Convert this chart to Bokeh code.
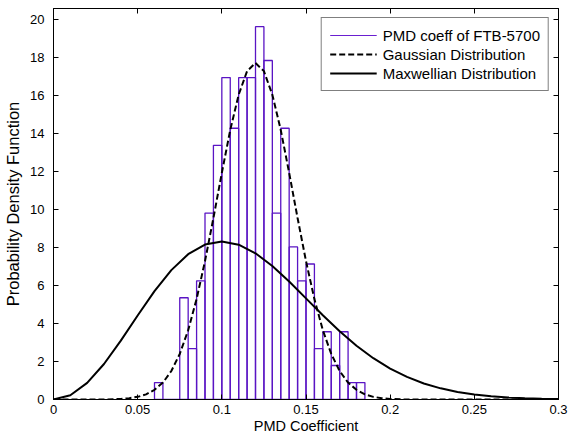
from bokeh.plotting import figure
from bokeh.models import (LinearAxis, Range1d, Legend, LegendItem, ColumnDataSource,
                          FixedTicker, NumeralTickFormatter)
from bokeh.embed import file_html
from bokeh.resources import INLINE

# ---- data ----
bin_left = [0.060, 0.065, 0.070, 0.075, 0.080, 0.085, 0.090, 0.095, 0.100, 0.105,
            0.110, 0.115, 0.120, 0.125, 0.130, 0.135, 0.140, 0.145, 0.150, 0.155,
            0.160, 0.165, 0.170, 0.175, 0.180]
bin_width = 0.005
pdf_hist = [0.89, 0.0, 0.0, 5.36, 2.68, 6.25, 9.82, 13.39, 16.96, 14.29,
            16.96, 16.96, 19.64, 17.86, 9.82, 14.29, 8.04, 6.25, 7.14, 2.68,
            3.57, 1.79, 3.57, 0.89, 0.89]

gauss_x = [0.0, 0.01, 0.02, 0.03, 0.040, 0.045, 0.050, 0.055, 0.060, 0.065, 0.070,
           0.075, 0.080, 0.085, 0.090, 0.095, 0.100, 0.105, 0.110, 0.115, 0.120,
           0.125, 0.130, 0.135, 0.140, 0.145, 0.150, 0.155, 0.160, 0.165, 0.170,
           0.175, 0.180, 0.185, 0.190, 0.195, 0.200, 0.21, 0.22, 0.23, 0.24, 0.25,
           0.26, 0.27, 0.28, 0.29, 0.30]
gauss_y = [0.0, 0.0, 0.0, 0.0, 0.03, 0.07, 0.14, 0.27, 0.51, 0.89, 1.50,
           2.40, 3.65, 5.29, 7.29, 9.56, 11.94, 14.20, 16.06, 17.30, 17.73,
           17.30, 16.06, 14.20, 11.94, 9.56, 7.29, 5.29, 3.65, 2.40, 1.50,
           0.89, 0.51, 0.27, 0.14, 0.07, 0.03, 0.0, 0.0, 0.0, 0.0, 0.0,
           0.0, 0.0, 0.0, 0.0, 0.0]

maxw_x = [0.00, 0.01, 0.02, 0.03, 0.04, 0.05, 0.06, 0.07, 0.08, 0.09, 0.10,
          0.11, 0.12, 0.13, 0.14, 0.15, 0.16, 0.17, 0.18, 0.19, 0.20,
          0.21, 0.22, 0.23, 0.24, 0.25, 0.26, 0.27, 0.28, 0.29, 0.30]
maxw_y = [0.0, 0.225, 0.875, 1.872, 3.101, 4.427, 5.707, 6.816, 7.656, 8.165, 8.327,
          8.158, 7.703, 7.031, 6.213, 5.328, 4.438, 3.595, 2.835, 2.177, 1.630,
          1.189, 0.846, 0.588, 0.399, 0.265, 0.171, 0.109, 0.067, 0.041, 0.024]

x_ticks = [0, 0.05, 0.1, 0.15, 0.2, 0.25, 0.3]
y_ticks = [0, 2, 4, 6, 8, 10, 12, 14, 16, 18, 20]

FONT = "Liberation Sans"

p = figure(width=570, height=439, x_range=Range1d(0, 0.3), y_range=Range1d(0, 20.6),
           output_backend="svg", toolbar_location=None,
           min_border_left=53, min_border_right=12, min_border_top=8, min_border_bottom=40)
p.xgrid.visible = False
p.ygrid.visible = False
p.outline_line_color = "black"
p.outline_line_width = 1
p.background_fill_color = "white"
p.border_fill_color = "white"

hist_src = ColumnDataSource(dict(left=bin_left,
                                 right=[b + bin_width for b in bin_left],
                                 top=pdf_hist,
                                 bottom=[0.0] * len(bin_left)))
p.quad(left="left", right="right", top="top", bottom="bottom", source=hist_src,
       fill_color=None, line_color="#5a14c4", line_width=1.3)

g = p.line(gauss_x, gauss_y, line_color="black", line_width=2, line_dash="6 3")
m = p.line(maxw_x, maxw_y, line_color="black", line_width=2)
h_leg = p.line([float("nan")], [float("nan")], line_color="#6a1fd0", line_width=1.2)

for ax in (p.xaxis[0], p.yaxis[0]):
    ax.major_tick_in = 5
    ax.major_tick_out = 0
    ax.minor_tick_in = 0
    ax.minor_tick_out = 0
    ax.minor_tick_line_color = None
    ax.axis_line_color = "black"
    ax.major_label_text_font = FONT
    ax.major_label_text_font_size = "13px"
    ax.major_label_text_color = "black"
    ax.axis_label_text_font = FONT
    ax.axis_label_text_font_style = "normal"
    ax.axis_label_text_color = "black"

p.xaxis[0].ticker = FixedTicker(ticks=x_ticks)
p.xaxis[0].formatter = NumeralTickFormatter(format="0.[00]")
p.xaxis[0].axis_label = "PMD Coefficient"
p.xaxis[0].axis_label_text_font_size = "14.5px"
p.xaxis[0].major_label_standoff = 5
p.xaxis[0].axis_label_standoff = 1

p.yaxis[0].ticker = FixedTicker(ticks=y_ticks)
p.yaxis[0].axis_label = "Probability Density Function"
p.yaxis[0].axis_label_text_font_size = "16.5px"
p.yaxis[0].major_label_standoff = 9
p.yaxis[0].axis_label_standoff = 5

# tick-only box axes on top and right (no labels drawn)
for side, ticks in (("above", x_ticks), ("right", y_ticks)):
    ax = LinearAxis(ticker=FixedTicker(ticks=ticks))
    ax.major_tick_in = 5
    ax.major_tick_out = 0
    ax.minor_tick_in = 0
    ax.minor_tick_out = 0
    ax.minor_tick_line_color = None
    ax.major_label_text_font_size = "1px"
    ax.major_label_text_color = None
    ax.major_label_standoff = 0
    ax.axis_line_color = "black"
    p.add_layout(ax, side)

legend = Legend(items=[LegendItem(label="PMD coeff of FTB-5700", renderers=[h_leg]),
                       LegendItem(label="Gaussian Distribution", renderers=[g]),
                       LegendItem(label="Maxwellian Distribution", renderers=[m])],
                location="top_right")
legend.label_text_font = FONT
legend.label_text_font_size = "15px"
legend.label_text_color = "black"
legend.glyph_width = 47
legend.glyph_height = 18
legend.label_height = 18
legend.label_standoff = 6
legend.spacing = 1
legend.padding = 8
legend.margin = 9
legend.border_line_color = "black"
legend.border_line_width = 1
legend.background_fill_color = "white"
legend.background_fill_alpha = 1
p.add_layout(legend)

open("out.html", "w").write(file_html(p, INLINE))
